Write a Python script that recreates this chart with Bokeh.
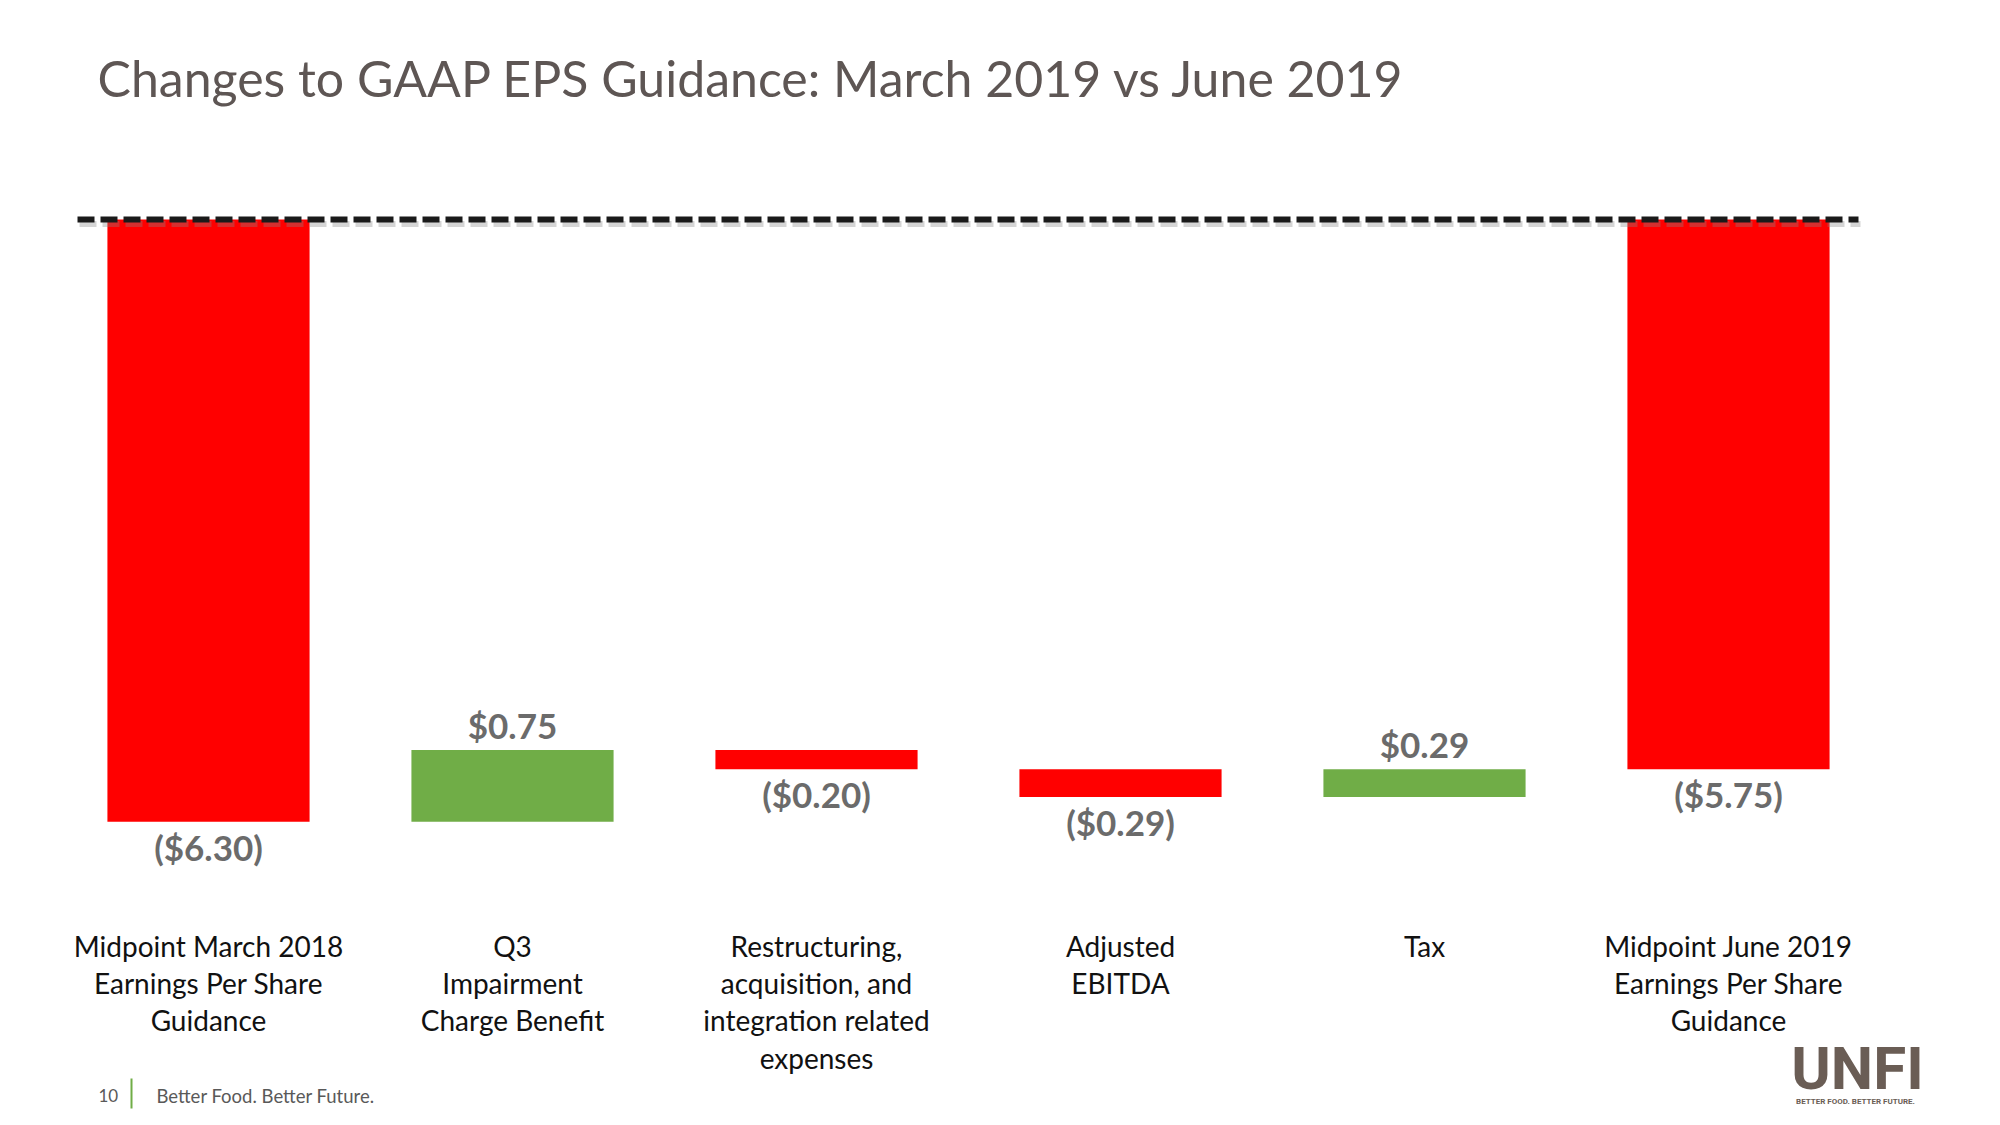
import numpy as np
from bokeh.plotting import figure
from bokeh.models import ColumnDataSource, Range1d
from bokeh.core.properties import value
from bokeh.embed import file_html
from bokeh.resources import INLINE

# ---------------- data ----------------
title_text = "Changes to GAAP EPS Guidance: March 2019 vs June 2019"
categories = [
    "Midpoint March 2018\nEarnings Per Share\nGuidance",
    "Q3\nImpairment\nCharge Benefit",
    "Restructuring,\nacquisition, and\nintegration related\nexpenses",
    "Adjusted\nEBITDA",
    "Tax",
    "Midpoint June 2019\nEarnings Per Share\nGuidance",
]
eps_change = [-6.30, 0.75, -0.20, -0.29, 0.29, -5.75]
is_total = [True, False, False, False, False, True]
footer_page = "10"
footer_tag = "Better Food. Better Future."
logo_text = "UNFI"
logo_tag = "BETTER FOOD. BETTER FUTURE."

# ---------------- layout helpers ----------------
FIG_W, FIG_H, PAGE_PAD = 1984, 1109, 0
PX_PER_X = 304.0     # pixels per category
PX_PER_Y = 95.6      # pixels per $1 of EPS
X0 = -(208 - PAGE_PAD) / PX_PER_X
Y1 = (219 - PAGE_PAD) / PX_PER_Y


def dx(px):
    return X0 + (px - PAGE_PAD) / PX_PER_X


def dy(py):
    return Y1 - (py - PAGE_PAD) / PX_PER_Y


RED = "#ff0000"
GREEN = "#70ad47"
LABEL_GRAY = "#6b6b6b"
TITLE_COLOR = "#5e5654"
FONT = "Lato"

# ---------------- waterfall geometry ----------------
xs, lo, hi, colors, labels, lab_y, lab_off = [], [], [], [], [], [], []
running = 0.0
for i, (v, tot) in enumerate(zip(eps_change, is_total)):
    if tot:
        start, end = 0.0, v
        running = v
    else:
        start, end = running, running + v
        running = end
    xs.append(i)
    lo.append(min(start, end))
    hi.append(max(start, end))
    colors.append(RED if v < 0 else GREEN)
    labels.append(f"(${abs(v):.2f})" if v < 0 else f"${v:.2f}")
    lab_y.append(min(start, end) if v < 0 else max(start, end))
    lab_off.append(25 if v < 0 else -25)

src = ColumnDataSource(dict(x=xs, lo=lo, hi=hi, color=colors, label=labels,
                            ly=lab_y, loff=lab_off, cat=categories))

p = figure(width=FIG_W, height=FIG_H, output_backend="svg", toolbar_location=None,
           x_range=Range1d(X0, X0 + FIG_W / PX_PER_X),
           y_range=Range1d(Y1 - FIG_H / PX_PER_Y, Y1),
           min_border=0, tools="")
p.axis.visible = False
p.grid.visible = False
p.outline_line_color = None
p.background_fill_color = "white"
p.border_fill_color = "white"

p.vbar(x="x", width=0.665, bottom="lo", top="hi", fill_color="color",
       line_color=None, source=src)

# value labels
p.text(x="x", y="ly", text="label", y_offset="loff", source=src,
       text_align="center", text_baseline="middle",
       text_font=value(FONT), text_font_style="bold",
       text_font_size="35px", text_color=LABEL_GRAY)

# category labels
p.text(x="x", y=dy(928), text="cat", source=src,
       text_align="center", text_baseline="top",
       text_font=value(FONT), text_font_size="28px",
       text_line_height=1.1, text_color="#111111")

# dashed zero line with shadow
p.line(x=[dx(79), dx(1860)], y=[-4.5 / PX_PER_Y] * 2, line_width=6,
       line_dash="17 6", line_color="#888888", line_alpha=0.35)
p.line(x=[dx(77), dx(1858)], y=[0, 0], line_width=6,
       line_dash="17 6", line_color="#1a1a1a")

# title
p.text(x=[dx(97)], y=[dy(77)], text=[title_text], text_align="left",
       text_baseline="middle", text_font=value(FONT),
       text_font_size="50px", text_color=TITLE_COLOR)

# footer
p.text(x=[dx(98)], y=[dy(1095)], text=[footer_page], text_align="left",
       text_baseline="middle", text_font=value(FONT),
       text_font_size="17px", text_color="#595959")
p.line(x=[dx(131), dx(131)], y=[dy(1078), dy(1108)], line_width=2,
       line_color=GREEN)
p.text(x=[dx(156)], y=[dy(1095)], text=[footer_tag], text_align="left",
       text_baseline="middle", text_font=value(FONT),
       text_font_size="18.5px", text_color="#595959")

# logo
p.text(x=[dx(1857)], y=[dy(1068)], text=[logo_text], text_align="center",
       text_baseline="middle", text_font=value("Roboto"),
       text_font_style="bold", text_font_size="60px", text_color="#6a5d55")
p.text(x=[dx(1855)], y=[dy(1101)], text=[logo_tag], text_align="center",
       text_baseline="middle", text_font=value("Roboto"),
       text_font_style="bold", text_font_size="8px", text_color="#6a5d55")

open("out.html", "w").write(file_html(p, INLINE))
